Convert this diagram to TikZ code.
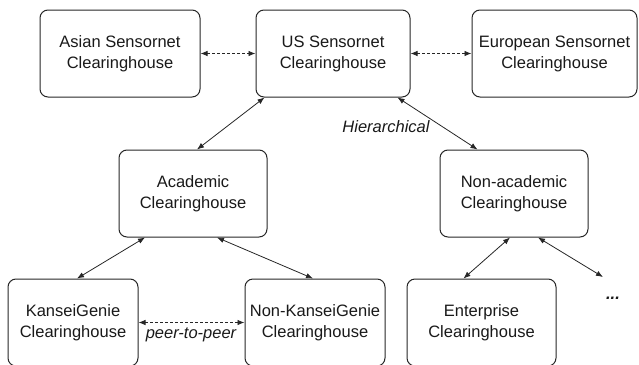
\documentclass[tikz,border=0pt]{standalone}
\usepackage{fontspec}
\setmainfont{Liberation Sans}
\usetikzlibrary{arrows.meta}

\begin{document}
\begin{tikzpicture}[x=1pt,y=-1pt,font=\fontsize{16.5}{21}\selectfont,
  chbox/.style={draw=black!85,line width=1pt,rounded corners=8pt,align=center,minimum height=87pt,inner sep=2pt,text=black!90},
  link/.style={{Latex[length=7pt,width=5.5pt]}-{Latex[length=7pt,width=5.5pt]},black!85,line width=0.8pt},
  peer/.style={link,dash pattern=on 3pt off 2pt}]
  \useasboundingbox (0,0) rectangle (639,364);
  \node[chbox,minimum width=160pt] (asian) at (120,53.5) {Asian Sensornet\\Clearinghouse};
  \node[chbox,minimum width=154pt] (us) at (333,53.5) {US Sensornet\\Clearinghouse};
  \node[chbox,minimum width=165pt] (europe) at (554.5,53.5) {European Sensornet\\Clearinghouse};
  \node[chbox,minimum width=148pt] (acad) at (193,193.5) {Academic\\Clearinghouse};
  \node[chbox,minimum width=148pt] (nonacad) at (514,193.5) {Non-academic\\Clearinghouse};
  \node[chbox,minimum width=130pt] (kansei) at (73,322.5) {KanseiGenie\\Clearinghouse};
  \node[chbox,minimum width=140pt] (nonkansei) at (315,322.5) {Non-KanseiGenie\\Clearinghouse};
  \node[chbox,minimum width=149pt] (enterprise) at (481.5,322.5) {Enterprise\\Clearinghouse};
  \coordinate (more) at (603,277);
  \node[text=black!90] (dots) at (613,298) {\bfseries\itshape ...};
  \node[text=black!90] (hier) at (386,127) {\itshape Hierarchical};
  \node[text=black!90] (p2p) at (191,335) {\itshape peer-to-peer};
  \draw[peer] (asian) -- (us); \draw[peer] (us) -- (europe);
  \draw[link] ([xshift=4]acad.north) -- ([xshift=9]us.south west);
  \draw[link] ([xshift=38]nonacad.north west) -- ([xshift=-13]us.south east);
  \draw[link] ([xshift=-48]acad.south) -- ([xshift=4]kansei.north);
  \draw[link] ([xshift=24]acad.south) -- ([xshift=-2]nonkansei.north);
  \draw[link] ([xshift=-4]nonacad.south) -- ([xshift=-18]enterprise.north);
  \draw[link] ([xshift=24]nonacad.south) -- (more);
  \draw[peer] (kansei) -- (nonkansei);
\end{tikzpicture}
\end{document}
